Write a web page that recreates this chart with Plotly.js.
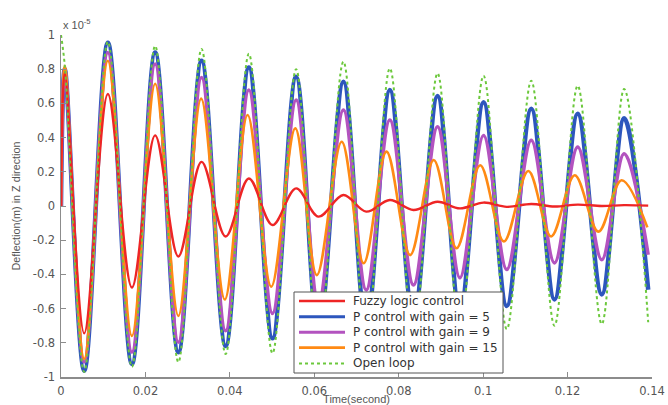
<!DOCTYPE html>
<html>
<head>
<meta charset="utf-8">
<script src="https://cdn.plot.ly/plotly-3.0.1.min.js"></script>
<style>html,body{margin:0;padding:0;background:#fff;}#chart{width:668px;height:405px;}</style>
</head>
<body>
<div id="chart"></div>
<script>
// Time (s) of the readable points: start, early rise, then alternating troughs/peaks
var timeCommon = [0, 0.0009, 0.0055, 0.0111, 0.0168, 0.0223, 0.0278, 0.0333, 0.0390, 0.0445, 0.0501, 0.0557, 0.0610, 0.0669, 0.0723, 0.0779, 0.0835, 0.0892, 0.0945, 0.1001, 0.1056, 0.1114, 0.1169, 0.1224, 0.1281, 0.1334, 0.1391];
var timeGain15 = [0, 0.0009, 0.0055, 0.0111, 0.0168, 0.0223, 0.0278, 0.0332, 0.0388, 0.0442, 0.0498, 0.0555, 0.0606, 0.0665, 0.0717, 0.0771, 0.0827, 0.0883, 0.0937, 0.0993, 0.1049, 0.1107, 0.1161, 0.1217, 0.1273, 0.1328, 0.1389];

// Deflection values (x 1e-5 m)
var fuzzy   = [0, 0.78, -0.745, 0.655, -0.477, 0.413, -0.295, 0.258, -0.178, 0.161, -0.111, 0.103, -0.062, 0.064, -0.033, 0.035, -0.023, 0.025, -0.014, 0.02, -0.005, 0.012, -0.003, 0.008, 0.0, 0.005, 0.002];
var gain5   = [0, 0.8, -0.963, 0.955, -0.924, 0.897, -0.855, 0.849, -0.818, 0.81, -0.774, 0.756, -0.74, 0.727, -0.70, 0.678, -0.66, 0.643, -0.62, 0.607, -0.585, 0.568, -0.547, 0.539, -0.517, 0.513, -0.49];
var gain9   = [0, 0.8, -0.913, 0.897, -0.855, 0.83, -0.797, 0.752, -0.73, 0.678, -0.628, 0.62, -0.57, 0.561, -0.491, 0.503, -0.462, 0.464, -0.42, 0.413, -0.372, 0.384, -0.333, 0.345, -0.314, 0.306, -0.285];
var gain15  = [0, 0.82, -0.895, 0.849, -0.76, 0.715, -0.643, 0.628, -0.547, 0.532, -0.472, 0.454, -0.404, 0.376, -0.335, 0.318, -0.287, 0.269, -0.247, 0.238, -0.207, 0.205, -0.178, 0.18, -0.15, 0.151, -0.125];
var openLoop = [1.0, 0.82, -0.97, 0.96, -0.94, 0.936, -0.913, 0.918, -0.866, 0.89, -0.861, 0.80, -0.84, 0.844, -0.80, 0.805, -0.78, 0.776, -0.75, 0.762, -0.72, 0.733, -0.70, 0.703, -0.69, 0.684, -0.68];

var seriesNames = ["Fuzzy logic control", "P control with gain = 5", "P control with gain = 9", "P control with gain = 15", "Open loop"];

var xTickVals = [0, 0.02, 0.04, 0.06, 0.08, 0.1, 0.12, 0.14];
var xTickText = ["0", "0.02", "0.04", "0.06", "0.08", "0.1", "0.12", "0.14"];
var yTickVals = [-1, -0.8, -0.6, -0.4, -0.2, 0, 0.2, 0.4, 0.6, 0.8, 1];
var yTickText = ["-1", "-0.8", "-0.6", "-0.4", "-0.2", "0", "0.2", "0.4", "0.6", "0.8", "1"];

// styles (legend order: fuzzy, gain5, gain9, gain15, open loop)
var styles = [
  {color: '#ee2525', width: 2.4, dash: 'solid'},
  {color: '#2d56bd', width: 4.5, dash: 'solid'},
  {color: '#b353bf', width: 3.5, dash: 'solid'},
  {color: '#ff8a14', width: 2.6, dash: 'solid'},
  {color: '#6cc83c', width: 2, dash: 'dot'}
];

function tr(x, y, i) {
  return {
    x: x, y: y, name: seriesNames[i], type: 'scatter', mode: 'lines',
    line: {color: styles[i].color, width: styles[i].width, dash: styles[i].dash, shape: 'spline', smoothing: 1},
    showlegend: false, hoverinfo: 'skip'
  };
}

var data = [
  tr(timeCommon, gain5, 1),
  tr(timeCommon, gain9, 2),
  tr(timeGain15, gain15, 3),
  tr(timeCommon, fuzzy, 0),
  tr(timeCommon, openLoop, 4)
];

var W = 668, H = 405, M = {l: 61, r: 16, t: 35, b: 28};
var PW = W - M.l - M.r, PH = H - M.t - M.b;
function px(x) { return (x - M.l) / PW; }
function py(y) { return (H - M.b - y) / PH; }

var tickFont = {family: 'DejaVu Sans, sans-serif', size: 11.5, color: '#555'};
var legendFont = {family: 'DejaVu Sans, sans-serif', size: 12, color: '#333'};

// hand-drawn legend box (Plotly's own legend rows are taller than the reference)
var legendRows = [301, 316.7, 332.2, 347.6, 363.4];
var shapes = [{
  type: 'rect', xref: 'paper', yref: 'paper',
  x0: px(294), x1: px(503), y0: py(373), y1: py(292),
  fillcolor: '#fff', line: {color: '#555', width: 1}, layer: 'above'
}];
var annotations = [{
  xref: 'paper', yref: 'paper', x: 0.0, y: py(24), xanchor: 'left', yanchor: 'middle',
  text: 'x 10<sup>-5</sup>', showarrow: false,
  font: {family: 'Liberation Sans, Arial, sans-serif', size: 11, color: '#555'}
}];
for (var i = 0; i < seriesNames.length; i++) {
  shapes.push({
    type: 'line', xref: 'paper', yref: 'paper', layer: 'above',
    x0: px(299), x1: px(345), y0: py(legendRows[i]), y1: py(legendRows[i]),
    line: {color: styles[i].color, width: Math.min(styles[i].width, 3), dash: styles[i].dash}
  });
  annotations.push({
    xref: 'paper', yref: 'paper', x: px(351), y: py(legendRows[i]),
    xanchor: 'left', yanchor: 'middle', showarrow: false,
    text: seriesNames[i], font: legendFont
  });
}

var layout = {
  width: W, height: H,
  margin: M,
  paper_bgcolor: '#fff', plot_bgcolor: '#fff',
  showlegend: false,
  xaxis: {
    range: [0, 0.14], showgrid: false, zeroline: false,
    showline: true, linecolor: '#8c8c8c', linewidth: 1.5,
    ticks: 'inside', ticklen: 5, tickcolor: '#8c8c8c', tickwidth: 1,
    tickmode: 'array', tickvals: xTickVals, ticktext: xTickText,
    tickfont: tickFont, ticklabelstandoff: 3,
    title: {text: 'Time(second)', font: {family: 'Liberation Sans, Arial, sans-serif', size: 11, color: '#555'}, standoff: 6}
  },
  yaxis: {
    range: [-1, 1], showgrid: false, zeroline: false,
    showline: true, linecolor: '#8c8c8c', linewidth: 1.5,
    ticks: 'inside', ticklen: 5, tickcolor: '#8c8c8c', tickwidth: 1,
    tickmode: 'array', tickvals: yTickVals, ticktext: yTickText,
    tickfont: tickFont, ticklabelstandoff: 2,
    title: {text: 'Deflection(m) in Z direction', font: {family: 'Liberation Sans, Arial, sans-serif', size: 10.8, color: '#555'}, standoff: 10}
  },
  shapes: shapes,
  annotations: annotations
};

Plotly.newPlot('chart', data, layout, {displayModeBar: false, staticPlot: true});
</script>
</body>
</html>
